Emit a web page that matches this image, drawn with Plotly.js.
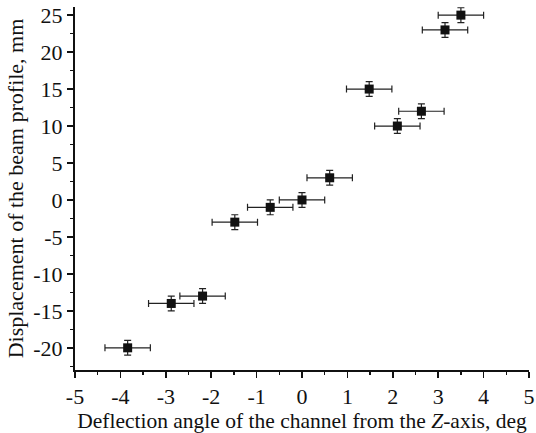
<!DOCTYPE html>
<html>
<head>
<meta charset="utf-8">
<script src="https://cdn.plot.ly/plotly-3.0.1.min.js"></script>
<style>html,body{margin:0;padding:0;background:#fff;}#chart{width:536px;height:433px;}</style>
</head>
<body>
<div id="chart"></div>
<script>
const angleDeg = [3.50, 3.15, 1.48, 2.63, 2.10, 0.61, 0.00, -0.70, -1.48, -2.19, -2.88, -3.84];
const displacementMm = [25, 23, 15, 12, 10, 3, 0, -1, -3, -13, -14, -20];
const angleErr = [0.5, 0.5, 0.5, 0.5, 0.5, 0.5, 0.5, 0.5, 0.5, 0.5, 0.5, 0.5];
const dispErr = [1, 1, 1, 1, 1, 1, 1, 1, 1, 1, 1, 1];
const xTicks = [-5, -4, -3, -2, -1, 0, 1, 2, 3, 4, 5];
const yTicks = [-20, -15, -10, -5, 0, 5, 10, 15, 20, 25];

const font = {family: '"Liberation Serif", "Times New Roman", serif', color: '#111', size: 21};

const trace = {
  x: angleDeg, y: displacementMm, type: 'scatter', mode: 'markers',
  marker: {symbol: 'square', size: 9, color: '#111'},
  error_x: {type: 'data', array: angleErr, visible: true, thickness: 1.2, width: 3.5, color: '#222'},
  error_y: {type: 'data', array: dispErr, visible: true, thickness: 1.2, width: 3.5, color: '#222'},
  hoverinfo: 'x+y'
};

const layout = {
  width: 536, height: 433,
  margin: {l: 75, r: 7, t: 7, b: 63},
  paper_bgcolor: '#fff', plot_bgcolor: '#fff',
  showlegend: false,
  font: font,
  xaxis: {
    range: [-5, 5], tickmode: 'array', tickvals: xTicks, ticktext: xTicks.map(String),
    showgrid: false, zeroline: false, showline: true, linewidth: 2, linecolor: '#111',
    ticks: 'outside', ticklen: 6, tickwidth: 1.5, tickcolor: '#111',
    minor: {dtick: 0.5, tick0: 0, ticks: 'outside', ticklen: 3, tickwidth: 1.5, tickcolor: '#111', showgrid: false},
    tickfont: {size: 22},
    title: {text: 'Deflection angle of the channel from the <i>Z</i>-axis, deg', font: {size: 21.5}, standoff: 0}
  },
  yaxis: {
    range: [-23, 26.1], tickmode: 'array', tickvals: yTicks, ticktext: yTicks.map(String),
    showgrid: false, zeroline: false, showline: true, linewidth: 2, linecolor: '#111',
    ticks: 'outside', ticklen: 6, tickwidth: 1.5, tickcolor: '#111',
    minor: {dtick: 2.5, tick0: 0, ticks: 'outside', ticklen: 3, tickwidth: 1.5, tickcolor: '#111', showgrid: false},
    tickfont: {size: 22},
    title: {text: 'Displacement of the beam profile, mm', font: {size: 22}, standoff: 4}
  }
};

Plotly.newPlot('chart', [trace], layout, {displayModeBar: false, staticPlot: true});
</script>
</body>
</html>
